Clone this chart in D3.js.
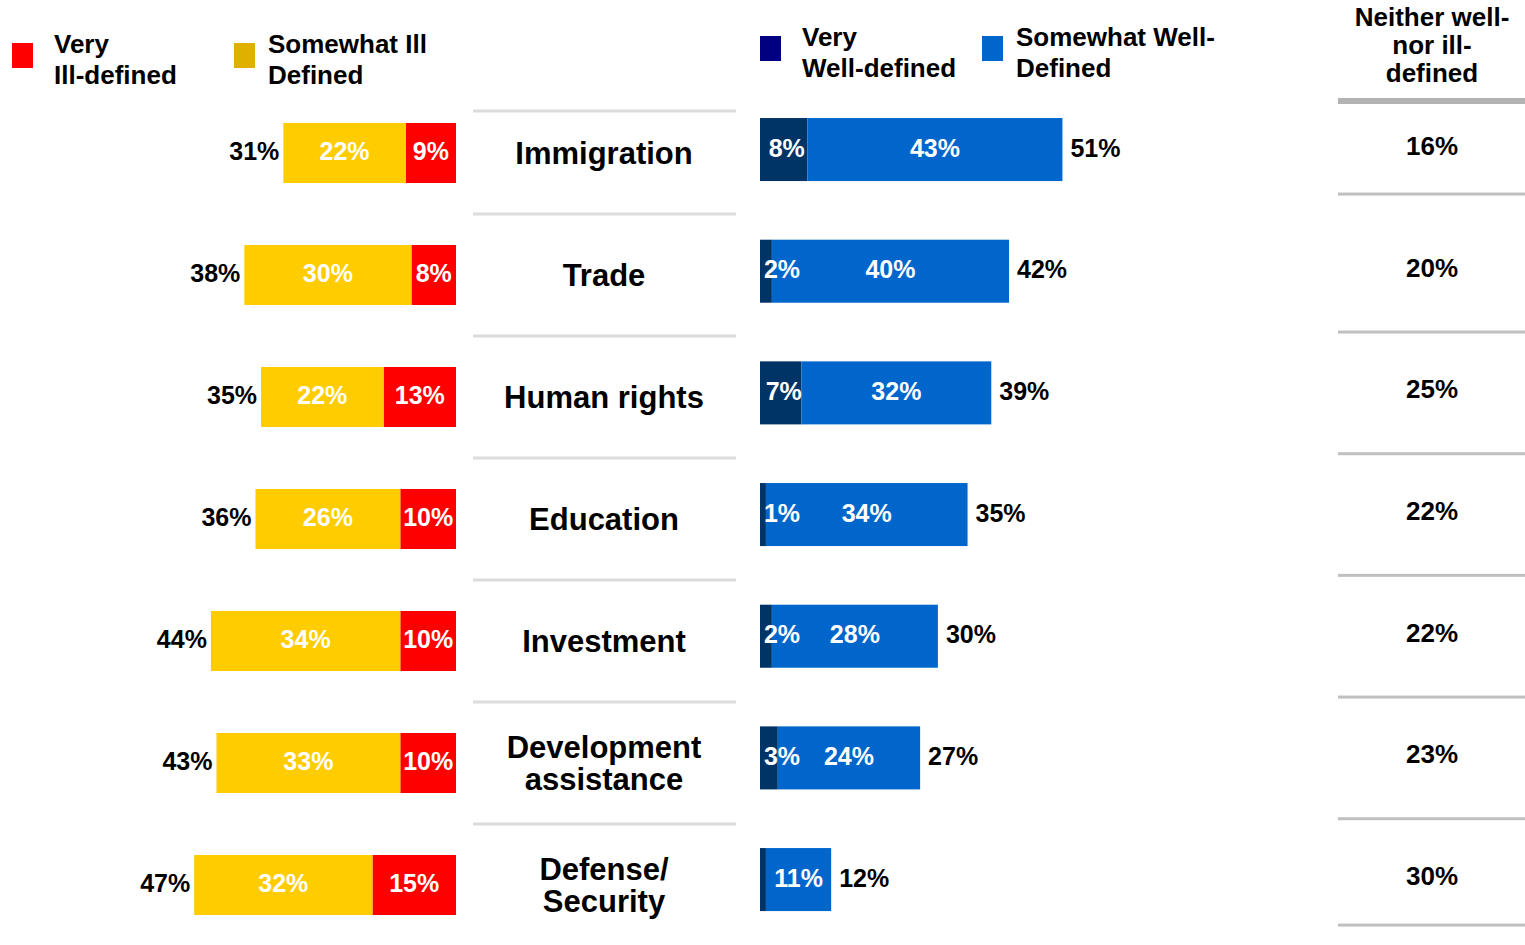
<!DOCTYPE html>
<html>
<head>
<meta charset="utf-8">
<script src="https://cdnjs.cloudflare.com/ajax/libs/d3/7.8.5/d3.min.js"></script>
<style>
  body { margin: 0; background: #fff; }
  text { font-family: "Liberation Sans", Arial, sans-serif; font-weight: bold; }
</style>
</head>
<body>
<div id="chart"></div>
<script>
// data
const categories = ['Immigration', 'Trade', 'Human rights', 'Education', 'Investment', 'Development assistance', 'Defense/ Security'];
const categoryLines = [['Immigration'], ['Trade'], ['Human rights'], ['Education'], ['Investment'], ['Development', 'assistance'], ['Defense/', 'Security']];
const veryIll = [9, 8, 13, 10, 10, 10, 15];
const somewhatIll = [22, 30, 22, 26, 34, 33, 32];
const totalIll = [31, 38, 35, 36, 44, 43, 47];
const veryWell = [8, 2, 7, 1, 2, 3, 1];
const veryWellLabels = ['8%', '2%', '7%', '1%', '2%', '3%', ''];
const somewhatWell = [43, 40, 32, 34, 28, 24, 11];
const totalWell = [51, 42, 39, 35, 30, 27, 12];
const neither = [16, 20, 25, 22, 22, 23, 30];

const colors = {
  veryIll: '#ff0000', somewhatIll: '#ffcc00', somewhatIllKey: '#e0b000',
  veryWell: '#003366', veryWellKey: '#000080', somewhatWell: '#0066cc'
};

const width = 1525, height = 945;

const svg = d3.select('#chart')
  .append('svg')
    .attr('width', width)
    .attr('height', height);

// scales
const xL = d3.scaleLinear().domain([0, 100]).range([456, 456 - 557]);
const xR = d3.scaleLinear().domain([0, 100]).range([760, 760 + 593]);
const yL = d3.scaleBand().domain(categories).range([92, 946]).paddingInner(0.508).paddingOuter(0.254);
const yR = d3.scaleBand().domain(categories).range([88.7, 940.4]).paddingInner(0.482).paddingOuter(0.241);

const rows = categories.map((c, i) => ({
  cat: c, i: i, lines: categoryLines[i],
  vi: veryIll[i], si: somewhatIll[i], ti: totalIll[i],
  vw: veryWell[i], vwl: veryWellLabels[i], sw: somewhatWell[i], tw: totalWell[i],
  ne: neither[i]
}));

// legends
function legendItem(x, y, color, lines, tx, lineGap) {
  svg.append('rect').attr('x', x).attr('y', y).attr('width', 21).attr('height', 25).attr('fill', color);
  const t = svg.append('text').attr('x', tx).attr('y', y + 10).attr('font-size', 26).attr('fill', '#000');
  lines.forEach((l, k) => t.append('tspan').attr('x', tx).attr('dy', k === 0 ? 0 : lineGap).text(l));
}
legendItem(12, 43, colors.veryIll, ['Very', 'Ill-defined'], 54, 31);
legendItem(234, 43, colors.somewhatIllKey, ['Somewhat Ill', 'Defined'], 268, 31);
legendItem(760, 36, colors.veryWellKey, ['Very', 'Well-defined'], 802, 31);
legendItem(982, 36, colors.somewhatWell, ['Somewhat Well-', 'Defined'], 1016, 31);

// neither header
const nh = svg.append('text').attr('x', 1432).attr('y', 26).attr('font-size', 26).attr('text-anchor', 'middle');
['Neither well-', 'nor ill-', 'defined'].forEach((l, k) =>
  nh.append('tspan').attr('x', 1432).attr('dy', k === 0 ? 0 : 28).text(l));
svg.append('rect').attr('x', 1338).attr('y', 98).attr('width', 187).attr('height', 6).attr('fill', '#b3b3b3');

// middle separators
const gapL = yL.step() - yL.bandwidth();
svg.selectAll('.sep')
  .data(rows)
  .enter()
  .append('rect')
    .attr('x', 473).attr('width', 263).attr('height', 3)
    .attr('y', d => (d.i === 0 ? yL(d.cat) - 12 : yL(d.cat) - gapL / 2) - 1.5)
    .attr('fill', '#dcdcdc');

// neither lines
const gapR = yR.step() - yR.bandwidth();
svg.selectAll('.nline')
  .data(rows)
  .enter()
  .append('rect')
    .attr('x', 1338).attr('width', 187).attr('height', 3)
    .attr('y', d => {
      const b = yR(d.cat) + yR.bandwidth();
      if (d.i === 0) return b + 13 - 1.5;
      if (d.i === rows.length - 1) return b + 14 - 1.5;
      return b + gapR / 2 - 1.5;
    })
    .attr('fill', '#c0c0c0');

// left bars
const lg = svg.selectAll('.lrow').data(rows).enter().append('g');
lg.append('rect')
  .attr('x', d => xL(d.vi))
  .attr('y', d => yL(d.cat))
  .attr('width', d => xL(0) - xL(d.vi))
  .attr('height', yL.bandwidth())
  .attr('fill', colors.veryIll);
lg.append('rect')
  .attr('x', d => xL(d.vi + d.si))
  .attr('y', d => yL(d.cat))
  .attr('width', d => xL(d.vi) - xL(d.vi + d.si))
  .attr('height', yL.bandwidth())
  .attr('fill', colors.somewhatIll);
lg.append('text')
  .attr('x', d => (xL(0) + xL(d.vi)) / 2)
  .attr('y', d => yL(d.cat) + yL.bandwidth() / 2 - 2)
  .attr('dy', '0.36em').attr('text-anchor', 'middle').attr('font-size', 25).attr('fill', '#fff')
  .text(d => d.vi + '%');
lg.append('text')
  .attr('x', d => (xL(d.vi) + xL(d.vi + d.si)) / 2)
  .attr('y', d => yL(d.cat) + yL.bandwidth() / 2 - 2)
  .attr('dy', '0.36em').attr('text-anchor', 'middle').attr('font-size', 25).attr('fill', '#fff')
  .text(d => d.si + '%');
lg.append('text')
  .attr('x', d => xL(d.ti) - 4)
  .attr('y', d => yL(d.cat) + yL.bandwidth() / 2 - 2)
  .attr('dy', '0.36em').attr('text-anchor', 'end').attr('font-size', 25).attr('fill', '#000')
  .text(d => d.ti + '%');

// category labels
const cl = svg.selectAll('.cat').data(rows).enter().append('text')
  .attr('text-anchor', 'middle').attr('font-size', 31).attr('fill', '#000')
  .attr('y', d => yL(d.cat) + yL.bandwidth() / 2 - (d.lines.length - 1) * 16 + 11);
cl.selectAll('tspan').data(d => d.lines).enter().append('tspan')
  .attr('x', 604).attr('dy', (l, k) => k === 0 ? 0 : 32).text(l => l);

// right bars
const rg = svg.selectAll('.rrow').data(rows).enter().append('g');
rg.append('rect')
  .attr('x', xR(0))
  .attr('y', d => yR(d.cat))
  .attr('width', d => xR(d.vw) - xR(0))
  .attr('height', yR.bandwidth())
  .attr('fill', colors.veryWell);
rg.append('rect')
  .attr('x', d => xR(d.vw))
  .attr('y', d => yR(d.cat))
  .attr('width', d => xR(d.vw + d.sw) - xR(d.vw))
  .attr('height', yR.bandwidth())
  .attr('fill', colors.somewhatWell);
rg.append('text')
  .attr('x', d => Math.max((xR(0) + xR(d.vw)) / 2 + 3, xR(0) + 22))
  .attr('y', d => yR(d.cat) + yR.bandwidth() / 2 - 2)
  .attr('dy', '0.36em').attr('text-anchor', 'middle').attr('font-size', 25).attr('fill', '#fff')
  .text(d => d.vwl);
rg.append('text')
  .attr('x', d => (xR(d.vw) + xR(d.vw + d.sw)) / 2)
  .attr('y', d => yR(d.cat) + yR.bandwidth() / 2 - 2)
  .attr('dy', '0.36em').attr('text-anchor', 'middle').attr('font-size', 25).attr('fill', '#fff')
  .text(d => d.sw + '%');
rg.append('text')
  .attr('x', d => xR(d.tw) + 8)
  .attr('y', d => yR(d.cat) + yR.bandwidth() / 2 - 2)
  .attr('dy', '0.36em').attr('text-anchor', 'start').attr('font-size', 25).attr('fill', '#000')
  .text(d => d.tw + '%');

// neither values
svg.selectAll('.nval').data(rows).enter().append('text')
  .attr('x', 1432)
  .attr('y', d => yR(d.cat) + yR.bandwidth() / 2 - 4)
  .attr('dy', '0.36em').attr('text-anchor', 'middle').attr('font-size', 26).attr('fill', '#000')
  .text(d => d.ne + '%');
</script>
</body>
</html>
